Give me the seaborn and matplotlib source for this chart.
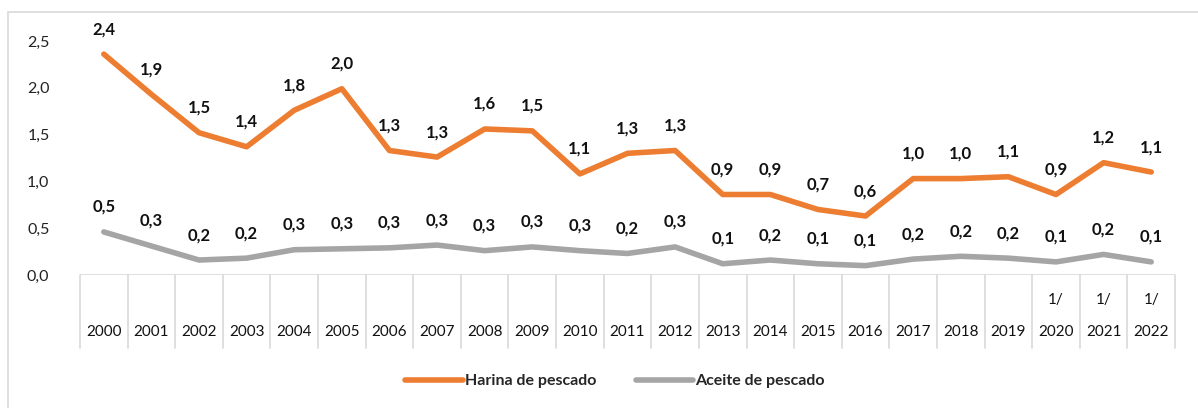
import numpy as np
import pandas as pd
import matplotlib
matplotlib.use("Agg")
import matplotlib.pyplot as plt
from matplotlib.ticker import FuncFormatter
from matplotlib.patches import Rectangle
import seaborn as sns

years = [str(y) for y in range(2000, 2023)]
notes = [""] * 20 + ["1/", "1/", "1/"]
harina = [2.36, 1.93, 1.52, 1.37, 1.76, 1.99, 1.33, 1.26, 1.56, 1.54, 1.08, 1.30,
          1.33, 0.86, 0.86, 0.70, 0.63, 1.03, 1.03, 1.05, 0.86, 1.20, 1.10]
aceite = [0.46, 0.31, 0.16, 0.18, 0.27, 0.28, 0.29, 0.32, 0.26, 0.30, 0.26, 0.23,
          0.30, 0.12, 0.16, 0.12, 0.10, 0.17, 0.20, 0.18, 0.14, 0.22, 0.14]
series = ["Harina de pescado", "Aceite de pescado"]
colors = ["#ED7D31", "#A5A5A5"]

sns.set_style("white")
plt.rcParams["font.family"] = ["Lato", "DejaVu Sans"]

df = pd.DataFrame({
    "pos": list(range(len(years))) * 2,
    "valor": harina + aceite,
    "serie": [series[0]] * len(years) + [series[1]] * len(years),
})

fig = plt.figure(figsize=(11.98, 4.08), dpi=100)
ax = fig.add_axes([80 / 1198, 1 - 275 / 408, (1175 - 80) / 1198, (275 - 41) / 408])

sns.lineplot(data=df, x="pos", y="valor", hue="serie", palette=colors,
             linewidth=4, ax=ax, legend=True)

ax.set_xlim(-0.5, len(years) - 0.5)
ax.set_ylim(0, 2.5)
ax.set_yticks(np.arange(0, 2.51, 0.5))
ax.yaxis.set_major_formatter(FuncFormatter(lambda v, p: f"{v:.1f}".replace(".", ",")))
ax.tick_params(axis="y", length=0, labelsize=11.5, pad=22, labelcolor="#222222")
ax.set_xticks([])
ax.set_xlabel("")
ax.set_ylabel("")
for s in ax.spines.values():
    s.set_visible(False)

grid_c = "#D9D9D9"
ax.axhline(0, color=grid_c, lw=1.2, zorder=0)
trans = ax.get_xaxis_transform()
for b in np.arange(-0.5, len(years), 1.0):
    ax.plot([b, b], [0, -0.312], color=grid_c, lw=1.2, transform=trans, clip_on=False)
for i, (y, n) in enumerate(zip(years, notes)):
    ax.text(i, -0.2436, y, transform=trans, ha="center", va="center", fontsize=11, color="#111111")
    if n:
        ax.text(i, -0.107, n, transform=trans, ha="center", va="center", fontsize=11, color="#111111")

for vals in (harina, aceite):
    for i, v in enumerate(vals):
        ax.annotate(f"{v:.1f}".replace(".", ","), (i, v), xytext=(0, 18), textcoords="offset points",
                    ha="center", va="center", fontsize=12, fontweight="bold", color="#111111",
                    annotation_clip=False)

handles, labels = ax.get_legend_handles_labels()
ax.get_legend().remove()
leg = fig.legend(handles, labels, loc="center", bbox_to_anchor=(615 / 1198, 1 - 381 / 408),
                 ncol=2, frameon=False, handlelength=3.6, columnspacing=2.5, handletextpad=0.1,
                 prop={"weight": "bold", "size": 11.5})

fig.patches.append(Rectangle((8 / 1198, -0.1), 1.2, 1 - 12 / 408 + 0.1, transform=fig.transFigure,
                             fill=False, edgecolor=grid_c, lw=1.2))

fig.savefig("out.png", dpi=100)
